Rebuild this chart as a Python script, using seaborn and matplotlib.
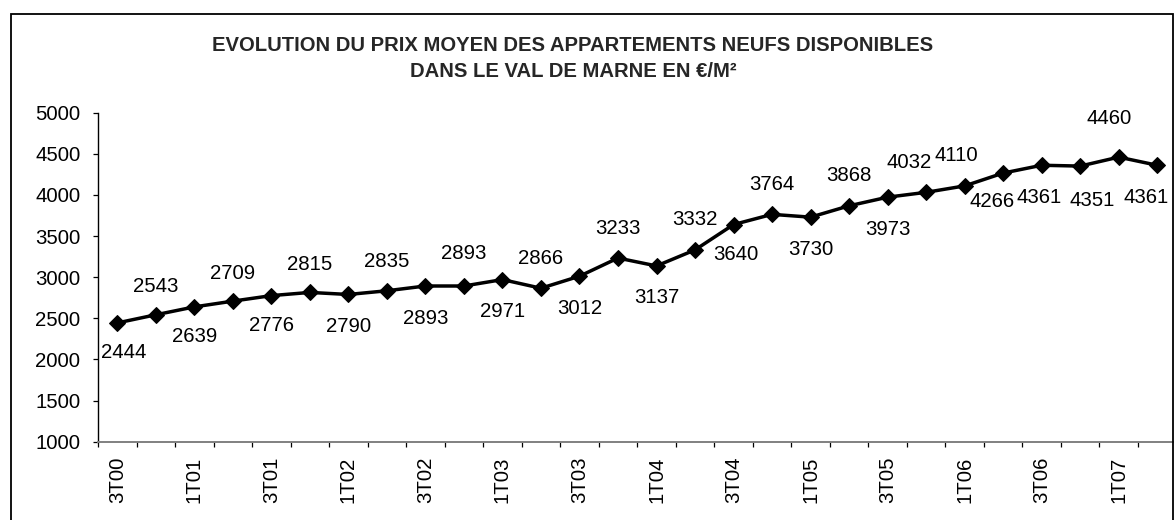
import matplotlib.pyplot as plt
import seaborn as sns
import pandas as pd
from matplotlib.patches import Rectangle

# ── Data ──────────────────────────────────────────────────────────────────
QUARTERS = ["3T00", "4T00",
            "1T01", "2T01", "3T01", "4T01",
            "1T02", "2T02", "3T02", "4T02",
            "1T03", "2T03", "3T03", "4T03",
            "1T04", "2T04", "3T04", "4T04",
            "1T05", "2T05", "3T05", "4T05",
            "1T06", "2T06", "3T06", "4T06",
            "1T07", "2T07"]
PRICES = [2444, 2543, 2639, 2709, 2776, 2815, 2790, 2835, 2893, 2893,
          2971, 2866, 3012, 3233, 3137, 3332, 3640, 3764, 3730, 3868,
          3973, 4032, 4110, 4266, 4361, 4351, 4460, 4361]
TITLE = "EVOLUTION DU PRIX MOYEN DES APPARTEMENTS NEUFS DISPONIBLES\nDANS LE VAL DE MARNE EN €/M²"

# label placement, in pixels (dx, dy) relative to the point (dy > 0 = above)
LABEL_OFFSETS = [(6, -30), (0, 28), (0, -30), (0, 28), (0, -30), (0, 28),
                 (0, -32), (0, 29), (0, -32), (0, 33), (0, -32), (0, 30),
                 (0, -32), (0, 30), (0, -32), (0, 30), (2, -30), (0, 30),
                 (0, -32), (0, 30), (0, -32), (-17, 30), (-8, 30), (-11, -28),
                 (-3, -32), (12, -34), (-10, 39), (-11, -32)]

sns.set_theme(style="white")
plt.rcParams["font.family"] = ["Liberation Sans", "DejaVu Sans"]

W, H = 1175, 520
X0, X1 = 98, 1176.5          # plot area, pixels
Y_TOP, Y_BOT = 112.7, 441.7
fig = plt.figure(figsize=(W / 100, H / 100), dpi=100)
ax = fig.add_axes([X0 / W, 1 - Y_BOT / H, (X1 - X0) / W, (Y_BOT - Y_TOP) / H])

df = pd.DataFrame({"x": range(len(PRICES)), "price": PRICES})
sns.lineplot(data=df, x="x", y="price", ax=ax, color="black", linewidth=2.5,
             marker="D", markersize=8.5, markeredgecolor="black",
             markerfacecolor="black", clip_on=False)

n = len(PRICES)
ax.set_xlim(-0.5, n - 0.5)
ax.set_ylim(1000, 5000)
ax.set_yticks(range(1000, 5001, 500))
ax.set_xticks(range(0, n, 2))
ax.set_xticklabels(QUARTERS[::2], rotation=90)
ax.set_xticks([i - 0.5 for i in range(n)], minor=True)
ax.set_xlabel("")
ax.set_ylabel("")

ax.tick_params(axis="y", direction="out", length=3.6, width=0.9, pad=9,
               labelsize=14.7, colors="black", left=True)
ax.tick_params(axis="x", which="major", length=0, pad=11, labelsize=14.7,
               colors="black")
ax.tick_params(axis="x", which="minor", direction="out", length=3.6,
               width=0.9, color="black", bottom=True)

for side in ["top", "right"]:
    ax.spines[side].set_visible(False)
ax.spines["left"].set_color("black")
ax.spines["left"].set_linewidth(1.0)
ax.spines["bottom"].set_color("#808080")
ax.spines["bottom"].set_linewidth(1.4)
# stop the category axis at the chart frame
cat_w = (X1 - X0) / n
ax.spines["bottom"].set_bounds(-0.5, -0.5 + (1173 - X0) / cat_w)
ax.grid(False)

# data labels
for i, (val, (dx, dy)) in enumerate(zip(PRICES, LABEL_OFFSETS)):
    ax.annotate(str(val), (i, val), xytext=(dx * 0.72, dy * 0.72),
                textcoords="offset points", ha="center", va="center",
                fontsize=14.7, color="black", annotation_clip=False)

fig.text(573 / W, 1 - 58.5 / H, TITLE, ha="center", va="center",
         fontsize=14.6, fontweight="bold", linespacing=1.45)

# outer chart frame
fig.add_artist(Rectangle((11 / W, -0.02), (1173 - 11) / W, 1 - 14 / H + 0.02,
                         transform=fig.transFigure, fill=False,
                         edgecolor="black", linewidth=1.3))

fig.savefig("out.png", dpi=100)
